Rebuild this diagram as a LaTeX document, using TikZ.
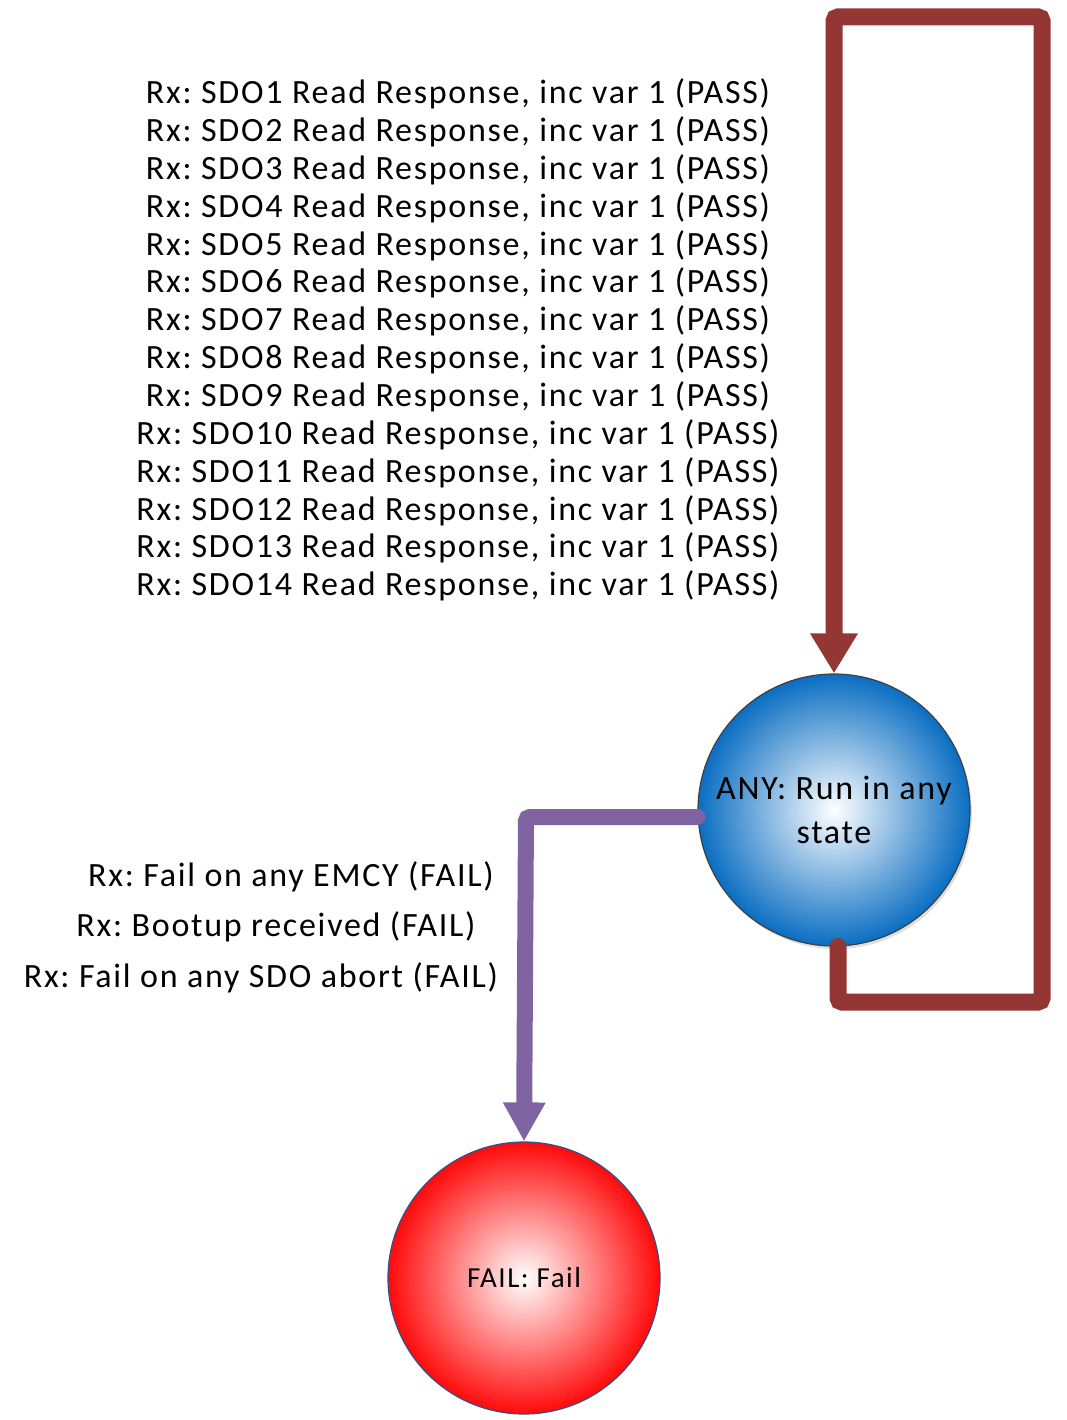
\documentclass[tikz,border=0pt]{standalone}
\usepackage{fontspec}
\setmainfont{Carlito}[LetterSpace=5.1]
\usetikzlibrary{arrows.meta,shadows}
\definecolor{loopred}{HTML}{943634}
\definecolor{failpurple}{HTML}{8064A2}
\definecolor{anyblue}{HTML}{0A6EC2}
\definecolor{failred}{HTML}{FF0A0A}
\definecolor{failedge}{HTML}{2F528F}
\begin{document}
\frenchspacing
\begin{tikzpicture}[x=1pt,y=-1pt,
  state/.style={circle,minimum size=272pt,inner sep=0pt,align=center,text=black},
  lbl/.style={font=\fontsize{34}{37.85}\selectfont,inner sep=0pt,align=center},
  conn/.style={line width=17pt,line cap=round,rounded corners=4pt}]
\useasboundingbox (0,0) rectangle (1067,1420);
\node[state,draw=black!75,line width=1.2pt,inner color=white,outer color=anyblue,
  drop shadow={opacity=0.25,shadow xshift=2pt,shadow yshift=-3pt},
  font=\fontsize{34}{44}\selectfont] (any) at (834,810) {ANY: Run in any\\state};
\node[state,draw=failedge,line width=1.2pt,inner color=white,outer color=failred,
  font=\fontsize{29}{30}\selectfont] (fail) at (524,1278) {FAIL: Fail};
\coordinate (lb) at (838,1002);
\coordinate (rb) at (1042,1002);
\coordinate (rt) at (1042,17);
\coordinate (lt) at (834,17);
\draw[conn,draw=loopred,-{Triangle[width=45pt,length=40pt]}]
  ([xshift=4pt]any.south) -- (lb) -- (rb) -- (rt) -- (lt) -- (any.north);
\coordinate (pc) at (526,817);
\draw[conn,line width=16pt,draw=failpurple,-{Triangle[width=40pt,length=39pt]}]
  ([yshift=-7pt]any.west) -- (pc) -- (fail.north);
\node[lbl] (sdo) at (458,340) {Rx: SDO1 Read Response, inc var 1 (PASS)\\
Rx: SDO2 Read Response, inc var 1 (PASS)\\
Rx: SDO3 Read Response, inc var 1 (PASS)\\
Rx: SDO4 Read Response, inc var 1 (PASS)\\
Rx: SDO5 Read Response, inc var 1 (PASS)\\
Rx: SDO6 Read Response, inc var 1 (PASS)\\
Rx: SDO7 Read Response, inc var 1 (PASS)\\
Rx: SDO8 Read Response, inc var 1 (PASS)\\
Rx: SDO9 Read Response, inc var 1 (PASS)\\
Rx: SDO10 Read Response, inc var 1 (PASS)\\
Rx: SDO11 Read Response, inc var 1 (PASS)\\
Rx: SDO12 Read Response, inc var 1 (PASS)\\
Rx: SDO13 Read Response, inc var 1 (PASS)\\
Rx: SDO14 Read Response, inc var 1 (PASS)};
\node[lbl] (f1) at (291,877) {Rx: Fail on any EMCY (FAIL)};
\node[lbl] (f2) at (276,927) {Rx: Bootup received (FAIL)};
\node[lbl] (f3) at (261,978) {Rx: Fail on any SDO abort (FAIL)};
\end{tikzpicture}
\end{document}
